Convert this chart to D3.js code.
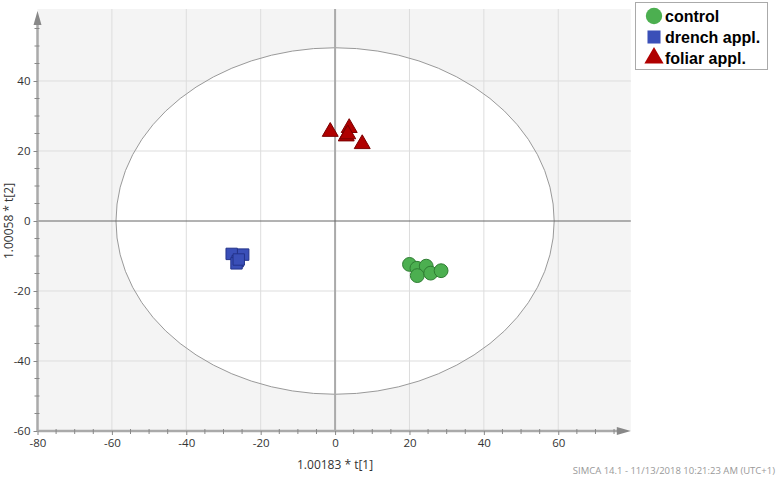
<!DOCTYPE html>
<html>
<head>
<meta charset="utf-8">
<script src="https://cdnjs.cloudflare.com/ajax/libs/d3/7.8.5/d3.min.js"></script>
<style>
  body { margin: 0; background: #fff; }
  svg { display: block; }
  .tick text { font-family: "Open Sans", "Liberation Sans", sans-serif; font-size: 11.5px; fill: #333; }
</style>
</head>
<body>
<div id="chart"></div>
<script>
// Chart size
const width = 778;
const height = 480;

// Group names and colours
const groups = ["control", "drench appl.", "foliar appl."];
const colors = ["#4caf50", "#3a4fb8", "#b00000"];
const strokes = ["#2e7d32", "#24338a", "#7a0000"];

// Score values, t[1] / t[2]
const controlX = [20.0, 22.0, 24.5, 22.1, 25.7, 28.5];
const controlY = [-12.4, -13.5, -12.9, -15.6, -14.9, -14.2];
const drenchX = [-27.8, -24.7, -26.2, -26.5, -25.9];
const drenchY = [-9.4, -9.6, -11.5, -12.1, -11.0];
const foliarX = [-1.3, 3.8, 3.0, 3.4, 7.3];
const foliarY = [25.5, 26.6, 24.2, 24.8, 22.0];

// Tick values and ellipse radii (Hotelling T2)
const xTicks = [-80, -60, -40, -20, 0, 20, 40, 60];
const yTicks = [-60, -40, -20, 0, 20, 40];
const ellipseR = [58.9, 49.5];

const svg = d3.select("#chart").append("svg")
  .attr("width", width)
  .attr("height", height);

// Scales
const x = d3.scaleLinear().domain([-80, 79.5]).range([37.5, 630.8]);
const y = d3.scaleLinear().domain([-60, 60]).range([431, 11]);

// Plot background
svg.append("rect")
  .attr("x", x(-80)).attr("y", 9)
  .attr("width", x(79.5) - x(-80)).attr("height", y(-60) - 9)
  .attr("fill", "#f4f4f4");

// Ellipse, filled white
svg.append("ellipse")
  .attr("cx", x(0)).attr("cy", y(0))
  .attr("rx", x(ellipseR[0]) - x(0))
  .attr("ry", y(0) - y(ellipseR[1]))
  .attr("fill", "#fff")
  .attr("stroke", "none");

// Grid lines
svg.append("g").selectAll("line")
  .data(xTicks.filter(d => d !== -80 && d !== 0))
  .join("line")
  .attr("x1", d => x(d)).attr("x2", d => x(d))
  .attr("y1", 9).attr("y2", y(-60))
  .attr("stroke", "#dddddd");
svg.append("g").selectAll("line")
  .data(yTicks.filter(d => d !== -60 && d !== 0))
  .join("line")
  .attr("x1", x(-80)).attr("x2", x(79.5))
  .attr("y1", d => y(d)).attr("y2", d => y(d))
  .attr("stroke", "#dddddd");

// Ellipse outline on top of grid
svg.append("ellipse")
  .attr("cx", x(0)).attr("cy", y(0))
  .attr("rx", x(ellipseR[0]) - x(0))
  .attr("ry", y(0) - y(ellipseR[1]))
  .attr("fill", "none")
  .attr("stroke", "#999")
  .attr("stroke-width", 1);

// Zero lines
svg.append("line")
  .attr("x1", x(0)).attr("x2", x(0))
  .attr("y1", 9).attr("y2", y(-60))
  .attr("stroke", "#aaaaaa").attr("stroke-width", 2);
svg.append("line")
  .attr("x1", x(-80)).attr("x2", x(79.5))
  .attr("y1", y(0)).attr("y2", y(0))
  .attr("stroke", "#666").attr("stroke-width", 1);

// Axes
const xAxis = svg.append("g")
  .attr("transform", `translate(0,${y(-60)})`)
  .call(d3.axisBottom(x).tickValues(xTicks).tickFormat(d => String(d)).tickSize(4).tickPadding(4));
const yAxis = svg.append("g")
  .attr("transform", `translate(${x(-80)},0)`)
  .call(d3.axisLeft(y).tickValues(yTicks).tickFormat(d => String(d)).tickSize(4).tickPadding(3));

// minor ticks every 5
const minorX = d3.range(-75, 76, 5).filter(d => d % 20 !== 0);
const minorY = d3.range(-55, 56, 5).filter(d => d % 20 !== 0);
svg.append("g").selectAll("line").data(minorX).join("line")
  .attr("x1", d => x(d)).attr("x2", d => x(d))
  .attr("y1", y(-60) - 2).attr("y2", y(-60) + 3)
  .attr("stroke", "#888");
svg.append("g").selectAll("line").data(minorY).join("line")
  .attr("x1", x(-80) - 3).attr("x2", x(-80) + 2)
  .attr("y1", d => y(d)).attr("y2", d => y(d))
  .attr("stroke", "#888");

[xAxis, yAxis].forEach(g => {
  g.select(".domain").attr("stroke", "#aaaaaa").attr("stroke-width", 2.5);
  g.selectAll(".tick line").attr("stroke", "#888");
});
xAxis.select(".domain").attr("d", `M${x(-80)},0H${x(79.5) - 12}`);
yAxis.select(".domain").attr("d", `M0,${y(-60)}V${y(60) + 12}`);

// Axis arrows
svg.append("path")
  .attr("d", `M${x(79.5) - 14},${y(-60) - 4}L${x(79.5)},${y(-60)}L${x(79.5) - 14},${y(-60) + 4}Z`)
  .attr("fill", "#888");
svg.append("path")
  .attr("d", `M${x(-80) - 4},${y(60) + 14}L${x(-80)},${y(60)}L${x(-80) + 4},${y(60) + 14}Z`)
  .attr("fill", "#888");

// Axis titles
svg.append("text")
  .attr("x", x(0)).attr("y", 469)
  .attr("text-anchor", "middle")
  .style("font-family", "'Open Sans', sans-serif").style("font-size", "12px").attr("fill", "#333")
  .text("1.00183 * t[1]");
svg.append("text")
  .attr("transform", `translate(13,${y(0)}) rotate(-90)`)
  .attr("text-anchor", "middle")
  .style("font-family", "'Open Sans', sans-serif").style("font-size", "12px").attr("fill", "#333")
  .text("1.00058 * t[2]");

// Footer
svg.append("text")
  .attr("x", 775).attr("y", 474)
  .attr("text-anchor", "end")
  .style("font-family", "'Open Sans', sans-serif").style("font-size", "9.5px").attr("fill", "#999")
  .text("SIMCA 14.1 - 11/13/2018 10:21:23 AM (UTC+1)");

// Points
const sym = [d3.symbolCircle, d3.symbolSquare, d3.symbolTriangle];
const sizes = [150, 130, 110];
const series = [
  controlX.map((v, i) => [v, controlY[i]]),
  drenchX.map((v, i) => [v, drenchY[i]]),
  foliarX.map((v, i) => [v, foliarY[i]])
];
series.forEach((pts, k) => {
  svg.append("g").selectAll("path").data(pts).join("path")
    .attr("transform", d => `translate(${x(d[0])},${y(d[1])})`)
    .attr("d", d3.symbol(sym[k], sizes[k]))
    .attr("fill", colors[k])
    .attr("stroke", strokes[k])
    .attr("stroke-width", 1);
});

// Legend
const legend = svg.append("g");
legend.append("rect")
  .attr("x", 635.5).attr("y", 2.5).attr("width", 132).attr("height", 67)
  .attr("fill", "#fff").attr("stroke", "#aaa");
groups.forEach((g, i) => {
  const ly = 16 + i * 21;
  legend.append("path")
    .attr("transform", `translate(654,${ly})`)
    .attr("d", d3.symbol(sym[i], [210, 170, 160][i]))
    .attr("fill", colors[i]);
  legend.append("text")
    .attr("x", 665).attr("y", ly + 6)
    .style("font-family", "'Liberation Sans', Arial, sans-serif")
    .style("font-size", "16px").style("font-weight", "bold")
    .attr("fill", "#000")
    .text(g);
});
</script>
</body>
</html>
